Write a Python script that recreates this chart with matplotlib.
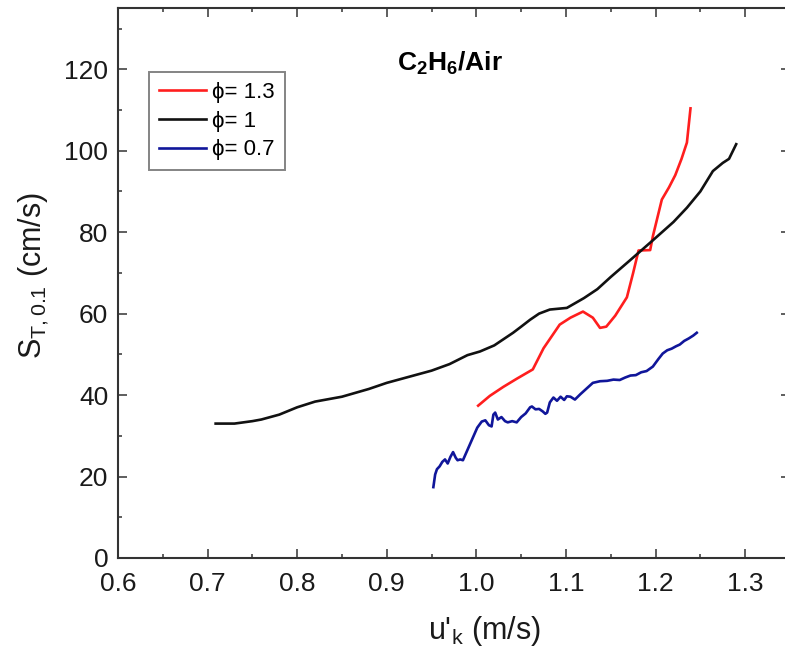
import matplotlib
matplotlib.use("Agg")
import matplotlib.pyplot as plt
from matplotlib.ticker import MultipleLocator

plt.rcParams['font.family'] = ['Liberation Sans', 'DejaVu Sans']
plt.rcParams['mathtext.fontset'] = 'custom'
plt.rcParams['mathtext.rm'] = 'Liberation Sans'
plt.rcParams['mathtext.it'] = 'Liberation Sans:italic'
plt.rcParams['mathtext.bf'] = 'Liberation Sans:bold'

# phi = 1.0
u_k_10 = [0.709, 0.73, 0.75, 0.76, 0.78, 0.80, 0.82, 0.85, 0.88, 0.90, 0.93, 0.95,
          0.97, 0.99, 1.004, 1.02, 1.041, 1.05, 1.06, 1.07, 1.082, 1.101, 1.12,
          1.135, 1.15, 1.171, 1.197, 1.22, 1.235, 1.25, 1.264, 1.275, 1.282, 1.29]
st_10 = [33.0, 33.0, 33.6, 34.0, 35.2, 37.0, 38.4, 39.6, 41.5, 43.0, 44.8, 46.0,
         47.6, 49.8, 50.7, 52.2, 55.3, 56.8, 58.5, 60.0, 61.0, 61.4, 63.8,
         66.0, 69.0, 73.0, 78.0, 82.5, 86.0, 90.0, 95.0, 97.0, 98.0, 101.6]

# phi = 1.3
u_k_13 = [1.002, 1.015, 1.03, 1.045, 1.063, 1.075, 1.093, 1.105, 1.119, 1.13,
          1.138, 1.145, 1.155, 1.168, 1.175, 1.181, 1.194, 1.197, 1.207, 1.215,
          1.222, 1.229, 1.235, 1.239]
st_13 = [37.4, 39.8, 42.0, 44.0, 46.3, 51.5, 57.3, 59.0, 60.5, 59.0,
         56.5, 56.8, 59.5, 64.0, 70.0, 75.5, 75.6, 79.0, 88.0, 91.0,
         94.0, 98.0, 102.0, 110.4]

# phi = 0.7
u_k_07 = [0.952, 0.954, 0.956, 0.959, 0.962, 0.965, 0.968, 0.971, 0.974, 0.977,
          0.979, 0.982, 0.985, 0.990, 0.996, 1.001, 1.006, 1.010, 1.014, 1.017,
          1.019, 1.021, 1.024, 1.028, 1.032, 1.035, 1.040, 1.045, 1.050, 1.055,
          1.060, 1.062, 1.066, 1.070, 1.074, 1.077, 1.079, 1.082, 1.086, 1.090,
          1.094, 1.098, 1.101, 1.105, 1.110, 1.116, 1.122, 1.130, 1.138, 1.146,
          1.153, 1.160, 1.166, 1.172, 1.178, 1.184, 1.190, 1.197, 1.203, 1.208,
          1.213, 1.218, 1.223, 1.227, 1.232, 1.237, 1.242, 1.246]
st_07 = [17.4, 20.5, 21.8, 22.5, 23.6, 24.2, 23.2, 24.8, 26.0, 24.6,
         24.0, 24.2, 24.0, 26.5, 29.5, 32.0, 33.5, 33.8, 32.6, 32.3,
         35.2, 35.7, 34.0, 34.6, 33.6, 33.3, 33.6, 33.3, 34.6, 35.5,
         37.0, 37.2, 36.5, 36.6, 36.0, 35.4, 35.7, 38.2, 39.4, 38.6,
         39.6, 38.8, 39.7, 39.6, 38.9, 40.2, 41.4, 43.0, 43.4, 43.5,
         43.8, 43.7, 44.3, 44.8, 44.9, 45.6, 45.9, 47.0, 48.8, 50.2,
         51.0, 51.4, 52.0, 52.4, 53.3, 53.9, 54.6, 55.3]

x_ticks = [0.6, 0.7, 0.8, 0.9, 1.0, 1.1, 1.2, 1.3]
x_tick_labels = ['0.6', '0.7', '0.8', '0.9', '1.0', '1.1', '1.2', '1.3']
y_ticks = [0, 20, 40, 60, 80, 100, 120]

fig = plt.figure(figsize=(7.85, 6.53), dpi=100)
# the right spine sits just past the figure edge
ax = fig.add_axes([0.1503, 0.1455, 0.856, 0.842])

ax.plot(u_k_13, st_13, color='#ff1e1e', lw=1.9, label='ϕ= 1.3')
ax.plot(u_k_10, st_10, color='#111111', lw=1.9, label='ϕ= 1')
ax.plot(u_k_07, st_07, color='#10169a', lw=1.9, label='ϕ= 0.7')

ax.set_xlim(0.6, 1.35)
ax.set_ylim(0, 135)
ax.set_xticks(x_ticks)
ax.set_xticklabels(x_tick_labels)
ax.set_yticks(y_ticks)
ax.xaxis.set_minor_locator(MultipleLocator(0.05))
ax.yaxis.set_minor_locator(MultipleLocator(10))
ax.tick_params(which='both', direction='in', top=True, right=True,
               labelsize=19, width=1.1, color='#333333', labelcolor='#1a1a1a')
ax.tick_params(which='major', length=6.5)
ax.tick_params(which='minor', length=3)
ax.tick_params(axis='x', which='major', pad=10)
ax.tick_params(axis='y', which='major', pad=7)
for s in ax.spines.values():
    s.set_linewidth(1.5)
    s.set_color('#333333')

ax.set_xlabel("u'$_\\mathregular{k}$ (m/s)", fontsize=22, color='#1a1a1a')
ax.set_ylabel("S$_\\mathregular{T,0.1}$ (cm/s)", fontsize=22, color='#1a1a1a')
ax.xaxis.set_label_coords(0.545, -0.102)
ax.yaxis.set_label_coords(-0.100, 0.513)

ax.text(0.494, 0.900, "C$_\\mathbf{2}$H$_\\mathbf{6}$/Air", transform=ax.transAxes,
        ha='center', va='center', fontsize=19, fontweight='bold')

leg = ax.legend(loc='upper left', bbox_to_anchor=(0.046, 0.884), borderaxespad=0,
                fontsize=16, frameon=True, fancybox=False, handlelength=2.1,
                handletextpad=0.3, labelspacing=0.35, borderpad=0.45)
leg.get_frame().set_edgecolor('#666666')
leg.get_frame().set_linewidth(1.4)

fig.savefig('out.png', dpi=100)
